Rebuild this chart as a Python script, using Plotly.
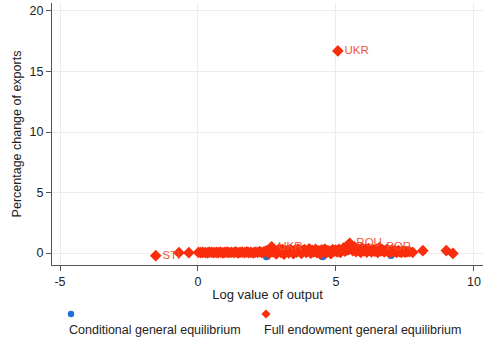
import plotly.graph_objects as go

# ---- data ----
full_x = [-1.53, -0.69, -0.33,
          0.02, 0.10, 0.18, 0.27, 0.35, 0.41, 0.50, 0.58, 0.66, 0.73, 0.81, 0.90, 0.97, 1.05, 1.12, 1.21,
          1.30, 1.37, 1.45, 1.52, 1.60, 1.69, 1.77, 1.84, 1.92, 2.01, 2.08, 2.16, 2.24, 2.31, 2.39, 2.46,
          2.52, 2.58, 2.63, 2.67, 2.72, 2.78, 2.84, 2.90, 2.95, 3.01, 3.07, 3.12, 3.18, 3.24, 3.29, 3.35,
          3.41, 3.46, 3.52, 3.58, 3.63, 3.69, 3.75, 3.80, 3.86, 3.92, 3.97, 4.03, 4.09, 4.14, 4.20, 4.26,
          4.31, 4.37, 4.43, 4.48, 4.54, 4.60, 4.65, 4.71, 4.77, 4.82, 4.88, 4.94, 4.99,
          5.05, 5.11, 5.16, 5.22, 5.27, 5.33, 5.39, 5.44, 5.50, 5.56, 5.61, 5.67, 5.73, 5.78, 5.84, 5.90,
          5.95, 6.01, 6.07, 6.12, 6.18, 6.24, 6.29, 6.35, 6.41, 6.46, 6.52, 6.58, 6.63, 6.69, 6.75, 6.80,
          6.86, 6.92, 6.97, 7.03, 7.09, 7.14, 7.20, 7.26, 7.31, 7.37, 7.43, 7.50, 7.57, 7.66, 7.78,
          8.15, 9.00, 9.24, 5.07]
full_y = [-0.22, 0.03, 0.03,
          0.05, 0.03, 0.06, 0.04, 0.02, 0.07, 0.05, 0.03, 0.06, 0.04, 0.08, 0.02, 0.05, 0.07, 0.03, 0.06,
          0.04, 0.09, 0.02, 0.05, 0.07, 0.03, 0.10, 0.04, 0.06, 0.02, 0.08, 0.05, 0.12, 0.03, 0.09, 0.15,
          0.20, -0.05, 0.30, 0.52, 0.10, 0.25, -0.08, 0.18, 0.35, 0.05, 0.28, -0.10, 0.15, 0.22, 0.02, 0.30,
          0.12, -0.06, 0.25, 0.08, 0.33, 0.14, -0.04, 0.20, 0.28, 0.06, 0.16, 0.35, -0.02, 0.22, 0.10, 0.30,
          0.04, 0.18, -0.08, 0.26, 0.12, 0.32, 0.02, 0.20, 0.10, -0.05, 0.28, 0.15, 0.24,
          0.10, 0.30, 0.05, 0.22, 0.40, 0.15, 0.55, 0.28, 0.80, 0.35, 0.20, 0.50, 0.12, 0.38, 0.25, 0.05,
          0.42, 0.18, 0.30, 0.08, 0.36, 0.22, 0.10, 0.28, 0.15, 0.32, 0.05, 0.45, 0.18, 0.26, 0.10, 0.22,
          0.30, 0.04, 0.16, 0.25, 0.10, 0.20, 0.06, 0.18, 0.12, 0.05, 0.15, 0.08, 0.10, 0.12, 0.06,
          0.19, 0.20, -0.03, 16.7]
full_labels = {-1.53: "STI", 2.67: "UKR", 5.50: "ROU", 6.58: "POR", 5.07: "UKR"}

cond_x = [-1.53, -0.69, -0.33, 0.3, 0.8, 1.3, 1.8, 2.2, 2.48, 2.9, 3.3, 3.7, 4.1, 4.52, 4.9, 5.07,
          5.4, 5.8, 6.2, 6.6, 7.0, 7.4, 8.15, 9.0, 9.24]
cond_y = [-0.25, 0.02, 0.02, 0.03, 0.03, 0.04, 0.04, 0.05, -0.30, 0.05, 0.02, 0.06, 0.04, -0.30, 0.05, 0.10,
          0.10, 0.08, 0.06, 0.05, -0.20, 0.04, 0.15, 0.15, -0.03]

x_ticks = [-5, 0, 5, 10]
x_tick_text = ["-5", "0", "5", "10"]
y_ticks = [0, 5, 10, 15, 20]

RED = "#fa2d0c"
BLUE = "#1a72d6"
FONT = "Liberation Sans, Arial, sans-serif"

full_text = []
for i, xv in enumerate(full_x):
    lab = full_labels.get(xv, "")
    if xv == 5.07 and full_y[i] < 1:
        lab = ""
    full_text.append(lab)

fig = go.Figure()
fig.add_trace(go.Scatter(x=cond_x, y=cond_y, mode="markers",
                         marker=dict(symbol="circle", size=7, color=BLUE),
                         showlegend=False))
fig.add_trace(go.Scatter(x=full_x, y=full_y, mode="markers+text", text=full_text,
                         textposition="middle right",
                         textfont=dict(family=FONT, size=11.5, color="#f2553a"),
                         marker=dict(symbol="diamond", size=9, color=RED),
                         showlegend=False))

L, R, T, B = 52, 5, 3, 77
W, H = 488, 342
pw, ph = W - L - R, H - T - B

def px(xp):
    return (xp - L) / pw

def py(yp):
    return (H - B - yp) / ph

shapes = []
cx, cy, r = px(71), py(314), 3.2
shapes.append(dict(type="circle", xref="paper", yref="paper",
                   x0=cx - r / pw, x1=cx + r / pw, y0=cy - r / ph, y1=cy + r / ph,
                   fillcolor=BLUE, line=dict(width=0)))
dx, dy = px(266), py(314)
hw = 4.6
shapes.append(dict(type="path", xref="paper", yref="paper",
                   path=f"M {dx},{dy + hw / ph} L {dx + hw / pw},{dy} L {dx},{dy - hw / ph} L {dx - hw / pw},{dy} Z",
                   fillcolor=RED, line=dict(width=0)))

annotations = [
    dict(text="Conditional general equilibrium", xref="paper", yref="paper",
         x=px(67), y=py(330), xanchor="left", yanchor="middle", showarrow=False,
         font=dict(family=FONT, size=12.5, color="#222")),
    dict(text="Full endowment general equilibrium", xref="paper", yref="paper",
         x=px(262), y=py(330), xanchor="left", yanchor="middle", showarrow=False,
         font=dict(family=FONT, size=12.5, color="#222")),
]

fig.update_layout(
    width=W, height=H, margin=dict(l=L, r=R, t=T, b=B),
    paper_bgcolor="white", plot_bgcolor="white",
    font=dict(family=FONT, size=12, color="#222"),
    shapes=shapes, annotations=annotations,
    xaxis=dict(range=[-5.29, 10.33], tickvals=x_ticks, ticktext=x_tick_text, ticks="outside", ticklen=5,
               tickcolor="#555", showline=True, linecolor="#555", linewidth=1,
               showgrid=True, gridcolor="#ececec", zeroline=False,
               title=dict(text="Log value of output", standoff=1, font=dict(size=13)),
               tickfont=dict(size=12.5)),
    yaxis=dict(range=[-0.99, 20.66], tickvals=y_ticks, ticks="outside", ticklen=5,
               tickcolor="#555", showline=True, linecolor="#555", linewidth=1,
               showgrid=True, gridcolor="#ececec", zeroline=False,
               title=dict(text="Percentage change of exports", standoff=5, font=dict(size=12.5)),
               tickfont=dict(size=12.5)),
)

fig.write_html("out.html")
